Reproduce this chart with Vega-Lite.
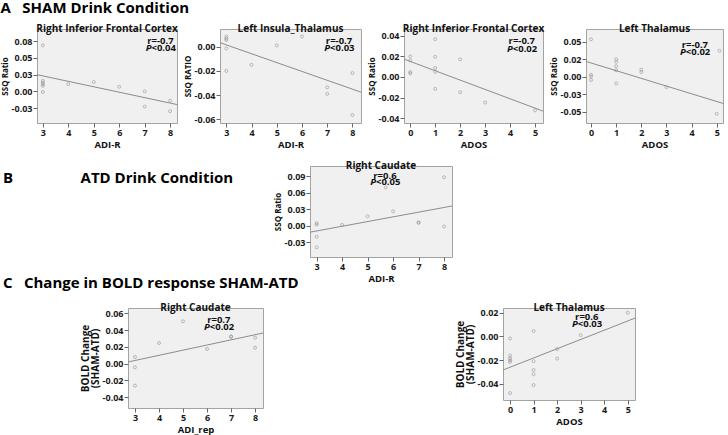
{
  "$schema": "https://vega.github.io/schema/vega-lite/v6.json",
  "padding": {"left": 0, "top": 0, "right": 2, "bottom": 2},
  "background": "white",
  "title": {"text": "A\u2002 SHAM Drink Condition", "anchor": "start", "frame": "bounds", "fontSize": 15, "offset": 8, "dy": 0, "color": "#000"},
  "datasets": {
    "pts": [
      {"p": "A1", "x": 3, "y": 0.0686}, {"p": "A1", "x": 3, "y": 0.0157}, {"p": "A1", "x": 3, "y": 0.0132}, {"p": "A1", "x": 3, "y": 0.0109}, {"p": "A1", "x": 3, "y": 0.0084}, {"p": "A1", "x": 3, "y": -0.0009},
      {"p": "A1", "x": 4, "y": 0.011}, {"p": "A1", "x": 5, "y": 0.014}, {"p": "A1", "x": 6, "y": 0.007}, {"p": "A1", "x": 7, "y": 0.0}, {"p": "A1", "x": 7, "y": -0.0225}, {"p": "A1", "x": 8, "y": -0.0137}, {"p": "A1", "x": 8, "y": -0.0294},
      {"p": "A2", "x": 3, "y": 0.0085}, {"p": "A2", "x": 3, "y": 0.0068}, {"p": "A2", "x": 3, "y": 0.0056}, {"p": "A2", "x": 3, "y": -0.0014}, {"p": "A2", "x": 3, "y": -0.02},
      {"p": "A2", "x": 4, "y": -0.0149}, {"p": "A2", "x": 5, "y": 0.0011}, {"p": "A2", "x": 6, "y": 0.0085}, {"p": "A2", "x": 7, "y": -0.0335}, {"p": "A2", "x": 7, "y": -0.0389}, {"p": "A2", "x": 8, "y": -0.0217}, {"p": "A2", "x": 8, "y": -0.0564},
      {"p": "A3", "x": 0, "y": 0.0198}, {"p": "A3", "x": 0, "y": 0.0159}, {"p": "A3", "x": 0, "y": 0.0046}, {"p": "A3", "x": 0, "y": 0.0033},
      {"p": "A3", "x": 1, "y": 0.0364}, {"p": "A3", "x": 1, "y": 0.0195}, {"p": "A3", "x": 1, "y": 0.0086}, {"p": "A3", "x": 1, "y": 0.005}, {"p": "A3", "x": 1, "y": -0.0116},
      {"p": "A3", "x": 2, "y": 0.0169}, {"p": "A3", "x": 2, "y": -0.0149}, {"p": "A3", "x": 3, "y": -0.0248}, {"p": "A3", "x": 5, "y": -0.0324},
      {"p": "A4", "x": 0, "y": 0.0537}, {"p": "A4", "x": 0, "y": 0.003}, {"p": "A4", "x": 0, "y": 0.0004}, {"p": "A4", "x": 0, "y": -0.0044},
      {"p": "A4", "x": 1, "y": 0.0251}, {"p": "A4", "x": 1, "y": 0.0216}, {"p": "A4", "x": 1, "y": 0.0152}, {"p": "A4", "x": 1, "y": 0.0093}, {"p": "A4", "x": 1, "y": -0.0095},
      {"p": "A4", "x": 2, "y": 0.0103}, {"p": "A4", "x": 2, "y": 0.0068}, {"p": "A4", "x": 3, "y": -0.0148}, {"p": "A4", "x": 5, "y": -0.0528}, {"p": "A4", "x": 5.11, "y": 0.0374},
      {"p": "B", "x": 3, "y": 0.0042}, {"p": "B", "x": 3, "y": 0.0018}, {"p": "B", "x": 3, "y": -0.0205}, {"p": "B", "x": 3, "y": -0.0398},
      {"p": "B", "x": 4, "y": 0.0012}, {"p": "B", "x": 5, "y": 0.0169}, {"p": "B", "x": 5.71, "y": 0.0693}, {"p": "B", "x": 6, "y": 0.0259},
      {"p": "B", "x": 7, "y": 0.006}, {"p": "B", "x": 7, "y": 0.0048}, {"p": "B", "x": 8, "y": 0.088}, {"p": "B", "x": 8, "y": -0.0018},
      {"p": "C1", "x": 3, "y": 0.008}, {"p": "C1", "x": 3, "y": -0.0044}, {"p": "C1", "x": 3, "y": -0.0263}, {"p": "C1", "x": 4, "y": 0.0247}, {"p": "C1", "x": 5, "y": 0.0506},
      {"p": "C1", "x": 6, "y": 0.0175}, {"p": "C1", "x": 7, "y": 0.0319}, {"p": "C1", "x": 7, "y": 0.0327}, {"p": "C1", "x": 8, "y": 0.031}, {"p": "C1", "x": 8, "y": 0.0191},
      {"p": "C2", "x": 0, "y": -0.0017}, {"p": "C2", "x": 0, "y": -0.0162}, {"p": "C2", "x": 0, "y": -0.0185}, {"p": "C2", "x": 0, "y": -0.0202}, {"p": "C2", "x": 0, "y": -0.0216}, {"p": "C2", "x": 0, "y": -0.0481},
      {"p": "C2", "x": 1, "y": 0.0046}, {"p": "C2", "x": 1, "y": -0.021}, {"p": "C2", "x": 1, "y": -0.0285}, {"p": "C2", "x": 1, "y": -0.0321}, {"p": "C2", "x": 1, "y": -0.0413},
      {"p": "C2", "x": 2, "y": -0.0108}, {"p": "C2", "x": 2, "y": -0.0188}, {"p": "C2", "x": 3, "y": 0.0011}, {"p": "C2", "x": 5, "y": 0.0202}
    ],
    "fit": [
      {"p": "A1", "x": 2.77, "y": 0.025}, {"p": "A1", "x": 8.27, "y": -0.0195},
      {"p": "A2", "x": 2.75, "y": 0.0034}, {"p": "A2", "x": 8.34, "y": -0.0375},
      {"p": "A3", "x": -0.25, "y": 0.0172}, {"p": "A3", "x": 5.32, "y": -0.0331},
      {"p": "A4", "x": -0.2, "y": 0.022}, {"p": "A4", "x": 5.25, "y": -0.038},
      {"p": "B", "x": 2.74, "y": -0.0121}, {"p": "B", "x": 8.31, "y": 0.0356},
      {"p": "C1", "x": 2.71, "y": 0.002}, {"p": "C1", "x": 8.33, "y": 0.0366},
      {"p": "C2", "x": -0.3, "y": -0.0285}, {"p": "C2", "x": 5.31, "y": 0.0156}
    ],
    "ann": [
      {"p": "A1", "x": 7.62, "ry": 0.0755, "py": 0.0652, "r": "r=-0.7", "pv": "<0.04"},
      {"p": "A2", "x": 7.47, "ry": 0.0048, "py": -0.0008, "r": "r=-0.7", "pv": "<0.03"},
      {"p": "A3", "x": 4.47, "ry": 0.0347, "py": 0.0274, "r": "r=-0.7", "pv": "<0.02"},
      {"p": "A4", "x": 4.13, "ry": 0.0458, "py": 0.035, "r": "r=-0.7", "pv": "<0.02"},
      {"p": "B", "x": 5.68, "ry": 0.091, "py": 0.0796, "r": "r=0.6", "pv": "<0.05"},
      {"p": "C1", "x": 6.49, "ry": 0.0521, "py": 0.0434, "r": "r=0.7", "pv": "<0.02"},
      {"p": "C2", "x": 3.26, "ry": 0.0168, "py": 0.0108, "r": "r=0.6", "pv": "<0.03"}
    ]
  },
  "spacing": 11,
  "resolve": {"scale": {"x": "independent", "y": "independent"}},
  "vconcat": [
    {
      "bounds": "flush",
      "spacing": 43,
      "resolve": {"scale": {"x": "independent", "y": "independent"}},
      "hconcat": [
        {
          "title": "Right Inferior Frontal Cortex",
          "width": 140, "height": 94,
          "layer": [
            {"data": {"name": "pts"}, "transform": [{"filter": "datum.p == 'A1'"}],
             "mark": {"type": "point", "size": 9, "stroke": "#8a8a8a", "strokeWidth": 0.8, "filled": false},
             "encoding": {
               "x": {"field": "x", "type": "quantitative", "scale": {"domain": [2.77, 8.27], "nice": false, "zero": false}, "axis": {"values": [3, 4, 5, 6, 7, 8], "tickCount": 20, "format": "d", "labelOverlap": false, "title": "ADI-R"}},
               "y": {"field": "y", "type": "quantitative", "scale": {"domain": [-0.047, 0.093], "nice": false, "zero": false}, "axis": {"values": [-0.025, 0, 0.025, 0.05, 0.075], "tickCount": 20, "labelOverlap": false, "labelExpr": "datum.value > 0.07 ? '0.08' : (datum.value > 0.02 && datum.value < 0.03) ? '0.03' : datum.value < -0.02 ? '-0.03' : format(datum.value, '.2f')", "title": "SSQ Ratio"}}
             }},
            {"data": {"name": "fit"}, "transform": [{"filter": "datum.p == 'A1'"}], "mark": {"type": "line", "color": "#8c8c8c", "strokeWidth": 1, "clip": true},
             "encoding": {"x": {"field": "x", "type": "quantitative"}, "y": {"field": "y", "type": "quantitative"}}},
            {"data": {"name": "ann"}, "transform": [{"filter": "datum.p == 'A1'"}], "mark": {"type": "text", "fontSize": 9.5, "fontWeight": "bold", "align": "center", "baseline": "middle", "color": "#111"},
             "encoding": {"x": {"field": "x", "type": "quantitative"}, "y": {"field": "ry", "type": "quantitative"}, "text": {"field": "r"}}},
            {"data": {"name": "ann"}, "transform": [{"filter": "datum.p == 'A1'"}], "mark": {"type": "text", "fontSize": 9.5, "fontWeight": "bold", "fontStyle": "italic", "align": "right", "baseline": "middle", "dx": -9, "color": "#111"},
             "encoding": {"x": {"field": "x", "type": "quantitative"}, "y": {"field": "py", "type": "quantitative"}, "text": {"value": "P"}}},
            {"data": {"name": "ann"}, "transform": [{"filter": "datum.p == 'A1'"}], "mark": {"type": "text", "fontSize": 9.5, "fontWeight": "bold", "align": "left", "baseline": "middle", "dx": -9, "color": "#111"},
             "encoding": {"x": {"field": "x", "type": "quantitative"}, "y": {"field": "py", "type": "quantitative"}, "text": {"field": "pv"}}}
          ]
        },
        {
          "title": "Left Insula_Thalamus",
          "width": 141, "height": 94,
          "layer": [
            {"data": {"name": "pts"}, "transform": [{"filter": "datum.p == 'A2'"}],
             "mark": {"type": "point", "size": 9, "stroke": "#8a8a8a", "strokeWidth": 0.8, "filled": false},
             "encoding": {
               "x": {"field": "x", "type": "quantitative", "scale": {"domain": [2.75, 8.34], "nice": false, "zero": false}, "axis": {"values": [3, 4, 5, 6, 7, 8], "tickCount": 20, "format": "d", "labelOverlap": false, "title": "ADI-R"}},
               "y": {"field": "y", "type": "quantitative", "scale": {"domain": [-0.063, 0.0147], "nice": false, "zero": false}, "axis": {"values": [-0.06, -0.04, -0.02, 0], "tickCount": 20, "labelOverlap": false, "labelExpr": "replace(format(datum.value, '.2f'), '\u2212', '-')", "title": "SSQ RATIO"}}
             }},
            {"data": {"name": "fit"}, "transform": [{"filter": "datum.p == 'A2'"}], "mark": {"type": "line", "color": "#8c8c8c", "strokeWidth": 1, "clip": true},
             "encoding": {"x": {"field": "x", "type": "quantitative"}, "y": {"field": "y", "type": "quantitative"}}},
            {"data": {"name": "ann"}, "transform": [{"filter": "datum.p == 'A2'"}], "mark": {"type": "text", "fontSize": 9.5, "fontWeight": "bold", "align": "center", "baseline": "middle", "color": "#111"},
             "encoding": {"x": {"field": "x", "type": "quantitative"}, "y": {"field": "ry", "type": "quantitative"}, "text": {"field": "r"}}},
            {"data": {"name": "ann"}, "transform": [{"filter": "datum.p == 'A2'"}], "mark": {"type": "text", "fontSize": 9.5, "fontWeight": "bold", "fontStyle": "italic", "align": "right", "baseline": "middle", "dx": -9, "color": "#111"},
             "encoding": {"x": {"field": "x", "type": "quantitative"}, "y": {"field": "py", "type": "quantitative"}, "text": {"value": "P"}}},
            {"data": {"name": "ann"}, "transform": [{"filter": "datum.p == 'A2'"}], "mark": {"type": "text", "fontSize": 9.5, "fontWeight": "bold", "align": "left", "baseline": "middle", "dx": -9, "color": "#111"},
             "encoding": {"x": {"field": "x", "type": "quantitative"}, "y": {"field": "py", "type": "quantitative"}, "text": {"field": "pv"}}}
          ]
        },
        {
          "title": "Right Inferior Frontal Cortex",
          "width": 139, "height": 94,
          "layer": [
            {"data": {"name": "pts"}, "transform": [{"filter": "datum.p == 'A3'"}],
             "mark": {"type": "point", "size": 9, "stroke": "#8a8a8a", "strokeWidth": 0.8, "filled": false},
             "encoding": {
               "x": {"field": "x", "type": "quantitative", "scale": {"domain": [-0.25, 5.32], "nice": false, "zero": false}, "axis": {"values": [0, 1, 2, 3, 4, 5], "tickCount": 20, "format": "d", "labelOverlap": false, "title": "ADOS"}},
               "y": {"field": "y", "type": "quantitative", "scale": {"domain": [-0.0446, 0.0463], "nice": false, "zero": false}, "axis": {"values": [-0.04, -0.02, 0, 0.02, 0.04], "tickCount": 20, "labelOverlap": false, "labelExpr": "replace(format(datum.value, '.2f'), '\u2212', '-')", "title": "SSQ Ratio"}}
             }},
            {"data": {"name": "fit"}, "transform": [{"filter": "datum.p == 'A3'"}], "mark": {"type": "line", "color": "#8c8c8c", "strokeWidth": 1, "clip": true},
             "encoding": {"x": {"field": "x", "type": "quantitative"}, "y": {"field": "y", "type": "quantitative"}}},
            {"data": {"name": "ann"}, "transform": [{"filter": "datum.p == 'A3'"}], "mark": {"type": "text", "fontSize": 9.5, "fontWeight": "bold", "align": "center", "baseline": "middle", "color": "#111"},
             "encoding": {"x": {"field": "x", "type": "quantitative"}, "y": {"field": "ry", "type": "quantitative"}, "text": {"field": "r"}}},
            {"data": {"name": "ann"}, "transform": [{"filter": "datum.p == 'A3'"}], "mark": {"type": "text", "fontSize": 9.5, "fontWeight": "bold", "fontStyle": "italic", "align": "right", "baseline": "middle", "dx": -9, "color": "#111"},
             "encoding": {"x": {"field": "x", "type": "quantitative"}, "y": {"field": "py", "type": "quantitative"}, "text": {"value": "P"}}},
            {"data": {"name": "ann"}, "transform": [{"filter": "datum.p == 'A3'"}], "mark": {"type": "text", "fontSize": 9.5, "fontWeight": "bold", "align": "left", "baseline": "middle", "dx": -9, "color": "#111"},
             "encoding": {"x": {"field": "x", "type": "quantitative"}, "y": {"field": "py", "type": "quantitative"}, "text": {"field": "pv"}}}
          ]
        },
        {
          "title": "Left Thalamus",
          "width": 137, "height": 94,
          "layer": [
            {"data": {"name": "pts"}, "transform": [{"filter": "datum.p == 'A4'"}],
             "mark": {"type": "point", "size": 9, "stroke": "#8a8a8a", "strokeWidth": 0.8, "filled": false},
             "encoding": {
               "x": {"field": "x", "type": "quantitative", "scale": {"domain": [-0.2, 5.25], "nice": false, "zero": false}, "axis": {"values": [0, 1, 2, 3, 4, 5], "tickCount": 20, "format": "d", "labelOverlap": false, "title": "ADOS"}},
               "y": {"field": "y", "type": "quantitative", "scale": {"domain": [-0.066, 0.0684], "nice": false, "zero": false}, "axis": {"values": [-0.05, -0.025, 0, 0.025, 0.05], "tickCount": 20, "labelOverlap": false, "labelExpr": "(datum.value > 0.02 && datum.value < 0.03) ? '0.02' : (datum.value < -0.02 && datum.value > -0.03) ? '-0.03' : replace(format(datum.value, '.2f'), '\u2212', '-')", "title": "SSQ Ratio"}}
             }},
            {"data": {"name": "fit"}, "transform": [{"filter": "datum.p == 'A4'"}], "mark": {"type": "line", "color": "#8c8c8c", "strokeWidth": 1, "clip": true},
             "encoding": {"x": {"field": "x", "type": "quantitative"}, "y": {"field": "y", "type": "quantitative"}}},
            {"data": {"name": "ann"}, "transform": [{"filter": "datum.p == 'A4'"}], "mark": {"type": "text", "fontSize": 9.5, "fontWeight": "bold", "align": "center", "baseline": "middle", "color": "#111"},
             "encoding": {"x": {"field": "x", "type": "quantitative"}, "y": {"field": "ry", "type": "quantitative"}, "text": {"field": "r"}}},
            {"data": {"name": "ann"}, "transform": [{"filter": "datum.p == 'A4'"}], "mark": {"type": "text", "fontSize": 9.5, "fontWeight": "bold", "fontStyle": "italic", "align": "right", "baseline": "middle", "dx": -9, "color": "#111"},
             "encoding": {"x": {"field": "x", "type": "quantitative"}, "y": {"field": "py", "type": "quantitative"}, "text": {"value": "P"}}},
            {"data": {"name": "ann"}, "transform": [{"filter": "datum.p == 'A4'"}], "mark": {"type": "text", "fontSize": 9.5, "fontWeight": "bold", "align": "left", "baseline": "middle", "dx": -9, "color": "#111"},
             "encoding": {"x": {"field": "x", "type": "quantitative"}, "y": {"field": "py", "type": "quantitative"}, "text": {"field": "pv"}}}
          ]
        }
      ]
    },
    {
      "bounds": "flush",
      "spacing": 0,
      "resolve": {"scale": {"x": "independent", "y": "independent"}},
      "hconcat": [
        {
          "width": 1, "height": 91,
          "data": {"values": []},
          "mark": {"type": "point", "opacity": 0},
          "encoding": {},
          "view": {"fill": null, "stroke": null},
          "title": {"text": "C\u2002 Change in BOLD response SHAM-ATD", "orient": "bottom", "anchor": "start", "frame": "group", "fontSize": 15, "offset": 19, "dx": -34, "dy": 0, "color": "#000"}
        },
        {
          "width": 272, "height": 91,
          "data": {"values": []},
          "mark": {"type": "point", "opacity": 0},
          "encoding": {},
          "view": {"fill": null, "stroke": null},
          "title": {"text": "B\u2003\u2003\u2003\u2003\u2002ATD Drink Condition", "anchor": "start", "frame": "group", "fontSize": 15, "offset": -6, "dx": -35, "dy": 14, "color": "#000"}
        },
        {
          "title": "Right Caudate",
          "width": 142, "height": 91,
          "layer": [
            {"data": {"name": "pts"}, "transform": [{"filter": "datum.p == 'B'"}],
             "mark": {"type": "point", "size": 9, "stroke": "#8a8a8a", "strokeWidth": 0.8, "filled": false},
             "encoding": {
               "x": {"field": "x", "type": "quantitative", "scale": {"domain": [2.74, 8.31], "nice": false, "zero": false}, "axis": {"values": [3, 4, 5, 6, 7, 8], "tickCount": 20, "format": "d", "labelOverlap": false, "title": "ADI-R"}},
               "y": {"field": "y", "type": "quantitative", "scale": {"domain": [-0.0573, 0.1085], "nice": false, "zero": false}, "axis": {"values": [-0.03, 0, 0.03, 0.06, 0.09], "tickCount": 20, "labelOverlap": false, "labelExpr": "replace(format(datum.value, '.2f'), '\u2212', '-')", "title": "SSQ Ratio"}}
             }},
            {"data": {"name": "fit"}, "transform": [{"filter": "datum.p == 'B'"}], "mark": {"type": "line", "color": "#8c8c8c", "strokeWidth": 1, "clip": true},
             "encoding": {"x": {"field": "x", "type": "quantitative"}, "y": {"field": "y", "type": "quantitative"}}},
            {"data": {"name": "ann"}, "transform": [{"filter": "datum.p == 'B'"}], "mark": {"type": "text", "fontSize": 9.5, "fontWeight": "bold", "align": "center", "baseline": "middle", "color": "#111"},
             "encoding": {"x": {"field": "x", "type": "quantitative"}, "y": {"field": "ry", "type": "quantitative"}, "text": {"field": "r"}}},
            {"data": {"name": "ann"}, "transform": [{"filter": "datum.p == 'B'"}], "mark": {"type": "text", "fontSize": 9.5, "fontWeight": "bold", "fontStyle": "italic", "align": "right", "baseline": "middle", "dx": -9, "color": "#111"},
             "encoding": {"x": {"field": "x", "type": "quantitative"}, "y": {"field": "py", "type": "quantitative"}, "text": {"value": "P"}}},
            {"data": {"name": "ann"}, "transform": [{"filter": "datum.p == 'B'"}], "mark": {"type": "text", "fontSize": 9.5, "fontWeight": "bold", "align": "left", "baseline": "middle", "dx": -9, "color": "#111"},
             "encoding": {"x": {"field": "x", "type": "quantitative"}, "y": {"field": "py", "type": "quantitative"}, "text": {"field": "pv"}}}
          ]
        }
      ]
    },
    {
      "bounds": "flush",
      "spacing": 0,
      "resolve": {"scale": {"x": "independent", "y": "independent"}},
      "hconcat": [
        {
          "width": 91, "height": 100,
          "data": {"values": []},
          "mark": {"type": "point", "opacity": 0},
          "encoding": {},
          "view": {"fill": null, "stroke": null}
        },
        {
          "title": "Right Caudate",
          "width": 135, "height": 100,
          "layer": [
            {"data": {"name": "pts"}, "transform": [{"filter": "datum.p == 'C1'"}],
             "mark": {"type": "point", "size": 9, "stroke": "#8a8a8a", "strokeWidth": 0.8, "filled": false},
             "encoding": {
               "x": {"field": "x", "type": "quantitative", "scale": {"domain": [2.71, 8.33], "nice": false, "zero": false}, "axis": {"values": [3, 4, 5, 6, 7, 8], "tickCount": 20, "format": "d", "labelOverlap": false, "title": "ADI_rep"}},
               "y": {"field": "y", "type": "quantitative", "scale": {"domain": [-0.053, 0.0665], "nice": false, "zero": false}, "axis": {"values": [-0.04, -0.02, 0, 0.02, 0.04, 0.06], "tickCount": 20, "labelOverlap": false, "labelExpr": "replace(format(datum.value, '.2f'), '\u2212', '-')", "title": ["BOLD Change", "(SHAM-ATD)"], "titleFontSize": 10, "titleLineHeight": 10}}
             }},
            {"data": {"name": "fit"}, "transform": [{"filter": "datum.p == 'C1'"}], "mark": {"type": "line", "color": "#8c8c8c", "strokeWidth": 1, "clip": true},
             "encoding": {"x": {"field": "x", "type": "quantitative"}, "y": {"field": "y", "type": "quantitative"}}},
            {"data": {"name": "ann"}, "transform": [{"filter": "datum.p == 'C1'"}], "mark": {"type": "text", "fontSize": 9.5, "fontWeight": "bold", "align": "center", "baseline": "middle", "color": "#111"},
             "encoding": {"x": {"field": "x", "type": "quantitative"}, "y": {"field": "ry", "type": "quantitative"}, "text": {"field": "r"}}},
            {"data": {"name": "ann"}, "transform": [{"filter": "datum.p == 'C1'"}], "mark": {"type": "text", "fontSize": 9.5, "fontWeight": "bold", "fontStyle": "italic", "align": "right", "baseline": "middle", "dx": -9, "color": "#111"},
             "encoding": {"x": {"field": "x", "type": "quantitative"}, "y": {"field": "py", "type": "quantitative"}, "text": {"value": "P"}}},
            {"data": {"name": "ann"}, "transform": [{"filter": "datum.p == 'C1'"}], "mark": {"type": "text", "fontSize": 9.5, "fontWeight": "bold", "align": "left", "baseline": "middle", "dx": -9, "color": "#111"},
             "encoding": {"x": {"field": "x", "type": "quantitative"}, "y": {"field": "py", "type": "quantitative"}, "text": {"field": "pv"}}}
          ]
        },
        {
          "width": 240, "height": 92,
          "data": {"values": []},
          "mark": {"type": "point", "opacity": 0},
          "encoding": {},
          "view": {"fill": null, "stroke": null}
        },
        {
          "title": "Left Thalamus",
          "width": 132, "height": 92,
          "layer": [
            {"data": {"name": "pts"}, "transform": [{"filter": "datum.p == 'C2'"}],
             "mark": {"type": "point", "size": 9, "stroke": "#8a8a8a", "strokeWidth": 0.8, "filled": false},
             "encoding": {
               "x": {"field": "x", "type": "quantitative", "scale": {"domain": [-0.3, 5.31], "nice": false, "zero": false}, "axis": {"values": [0, 1, 2, 3, 4, 5], "tickCount": 20, "format": "d", "labelOverlap": false, "title": "ADOS"}},
               "y": {"field": "y", "type": "quantitative", "scale": {"domain": [-0.054, 0.0242], "nice": false, "zero": false}, "axis": {"values": [-0.04, -0.02, 0, 0.02], "tickCount": 20, "labelOverlap": false, "labelExpr": "replace(format(datum.value, '.2f'), '\u2212', '-')", "title": ["BOLD Change", "(SHAM-ATD)"], "titleFontSize": 10, "titleLineHeight": 10}}
             }},
            {"data": {"name": "fit"}, "transform": [{"filter": "datum.p == 'C2'"}], "mark": {"type": "line", "color": "#8c8c8c", "strokeWidth": 1, "clip": true},
             "encoding": {"x": {"field": "x", "type": "quantitative"}, "y": {"field": "y", "type": "quantitative"}}},
            {"data": {"name": "ann"}, "transform": [{"filter": "datum.p == 'C2'"}], "mark": {"type": "text", "fontSize": 9.5, "fontWeight": "bold", "align": "center", "baseline": "middle", "color": "#111"},
             "encoding": {"x": {"field": "x", "type": "quantitative"}, "y": {"field": "ry", "type": "quantitative"}, "text": {"field": "r"}}},
            {"data": {"name": "ann"}, "transform": [{"filter": "datum.p == 'C2'"}], "mark": {"type": "text", "fontSize": 9.5, "fontWeight": "bold", "fontStyle": "italic", "align": "right", "baseline": "middle", "dx": -9, "color": "#111"},
             "encoding": {"x": {"field": "x", "type": "quantitative"}, "y": {"field": "py", "type": "quantitative"}, "text": {"value": "P"}}},
            {"data": {"name": "ann"}, "transform": [{"filter": "datum.p == 'C2'"}], "mark": {"type": "text", "fontSize": 9.5, "fontWeight": "bold", "align": "left", "baseline": "middle", "dx": -9, "color": "#111"},
             "encoding": {"x": {"field": "x", "type": "quantitative"}, "y": {"field": "py", "type": "quantitative"}, "text": {"field": "pv"}}}
          ]
        }
      ]
    }
  ],
  "config": {
    "font": "Open Sans",
    "view": {"fill": "#f0f0f0", "stroke": "#a3a3a3", "strokeWidth": 1},
    "axis": {"grid": false, "domain": false, "ticks": true, "tickSize": 4, "tickColor": "#666666", "tickWidth": 1, "labelOverlap": false, "labelFlush": false, "labelFont": "Open Sans", "labelFontSize": 9, "labelFontWeight": "bold", "labelColor": "#1a1a1a", "titleFont": "Open Sans", "titleFontWeight": "bold", "titleColor": "#111111", "titleFontSize": 9.5},
    "axisX": {"labelPadding": 1, "titlePadding": 2},
    "axisY": {"labelPadding": 1, "titlePadding": 2, "titleFontSize": 8},
    "title": {"font": "Open Sans", "fontSize": 10, "fontWeight": "bold", "color": "#111111", "offset": 0, "dy": 9}
  }
}
